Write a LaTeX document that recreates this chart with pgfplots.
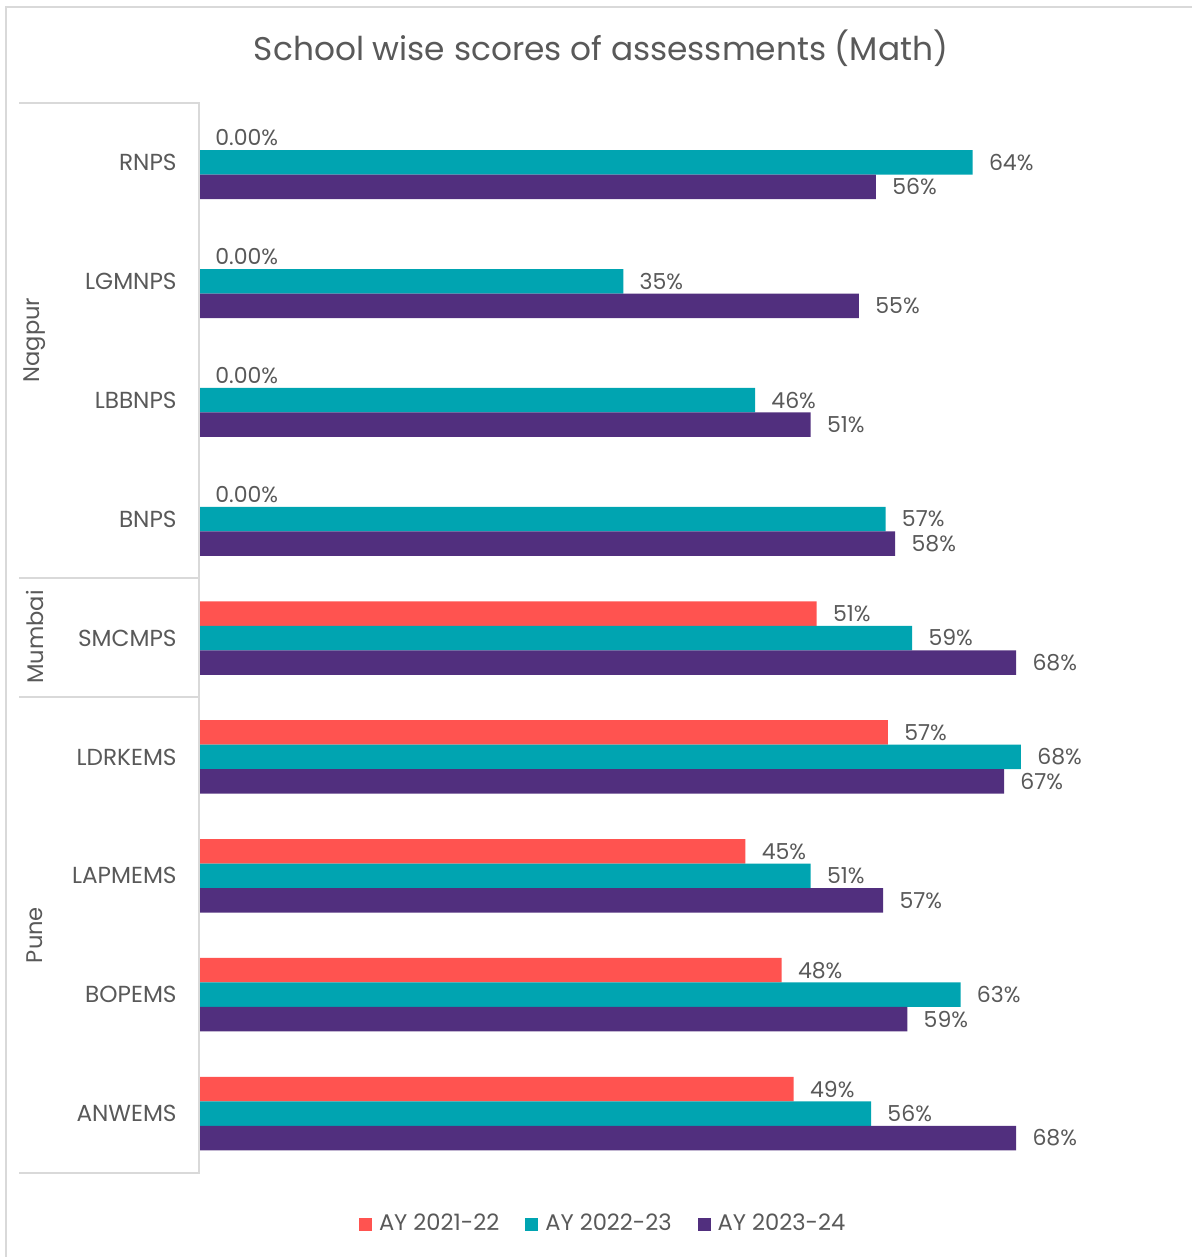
\documentclass[border=0pt]{standalone}
\usepackage{pgfplots}
\pgfplotsset{compat=1.18}
\usepackage{fontspec}
\setmainfont{Poppins}
\definecolor{cred}{HTML}{FF5350}
\definecolor{cteal}{HTML}{00A4B1}
\definecolor{cpurple}{HTML}{512F7E}
\definecolor{tgray}{HTML}{595959}
\definecolor{lgray}{HTML}{D9D9D9}
\begin{document}
\begin{tikzpicture}
\useasboundingbox (0,0) rectangle (596pt,-628.5pt);
\draw[lgray, line width=1pt] (3pt,-3.5pt) rectangle (600pt,-640pt);
\begin{axis}[
  at={(99.5pt,-586.5pt)}, anchor=south west,
  scale only axis, width=483.5pt, height=535pt,
  xbar, bar width=12.25pt,
  xmin=0, xmax=80, ymin=-0.5, ymax=8.5,
  axis line style={draw=none},
  xtick=\empty,
  major tick length=0pt,
  ytick={0,...,8},
  yticklabels={ANWEMS,BOPEMS,LAPMEMS,LDRKEMS,SMCMPS,BNPS,LBBNPS,LGMNPS,RNPS},
  yticklabel style={anchor=east, inner sep=0pt, xshift=-11pt, font=\fontsize{11.6}{13}\selectfont, text=tgray},
  point meta=explicit symbolic,
  nodes near coords={\pgfplotspointmeta\%},
  nodes near coords style={anchor=west, inner sep=0pt, xshift=8pt, font=\fontsize{11}{13}\selectfont, text=tgray},
  legend columns=3,
  legend style={draw=none, at={(0.419,-0.0477)}, anchor=center, font=\fontsize{11.3}{13}\selectfont, text=tgray,
    /tikz/every even column/.append style={column sep=11pt},
    /tikz/every odd column/.append style={column sep=1.5pt}},
  legend image code/.code={\fill[#1,draw=none] (0pt,-3.25pt) rectangle (6.5pt,3.25pt);},
]
\addplot[fill=cred, draw=none, bar shift=12.25pt] table[x=x, y=y, meta=l] {
x y l
0 8 0.00
0 7 0.00
0 6 0.00
0 5 0.00
51.1 4 51
57.0 3 57
45.2 2 45
48.2 1 48
49.2 0 49
};
\addplot[fill=cteal, draw=none, bar shift=0pt] table[x=x, y=y, meta=l] {
x y l
64.0 8 64
35.1 7 35
46.0 6 46
56.8 5 57
59.0 4 59
68.0 3 68
50.6 2 51
63.0 1 63
55.6 0 56
};
\addplot[fill=cpurple, draw=none, bar shift=-12.25pt] table[x=x, y=y, meta=l] {
x y l
56.0 8 56
54.6 7 55
50.6 6 51
57.6 5 58
67.6 4 68
66.6 3 67
56.6 2 57
58.6 1 59
67.6 0 68
};
\legend{AY 2021-22, AY 2022-23, AY 2023-24}
\end{axis}
% separators
\draw[lgray, line width=1pt] (9.5pt,-51.5pt) -- (99.5pt,-51.5pt) -- (99.5pt,-586.5pt) -- (9.5pt,-586.5pt);
\draw[lgray, line width=1pt] (9.5pt,-289pt) -- (99.5pt,-289pt);
\draw[lgray, line width=1pt] (9.5pt,-348.5pt) -- (99.5pt,-348.5pt);
\node[rotate=90, text=tgray, font=\fontsize{11.3}{13}\selectfont] at (17.5pt,-170pt) {Nagpur};
\node[rotate=90, text=tgray, font=\fontsize{11.3}{13}\selectfont] at (17.5pt,-318.5pt) {Mumbai};
\node[rotate=90, text=tgray, font=\fontsize{11.3}{13}\selectfont] at (17.5pt,-467.5pt) {Pune};
\node[text=tgray, font=\fontsize{16.4}{20}\selectfont] at (300.5pt,-24pt) {School wise scores of assessments (Math)};
\end{tikzpicture}
\end{document}
